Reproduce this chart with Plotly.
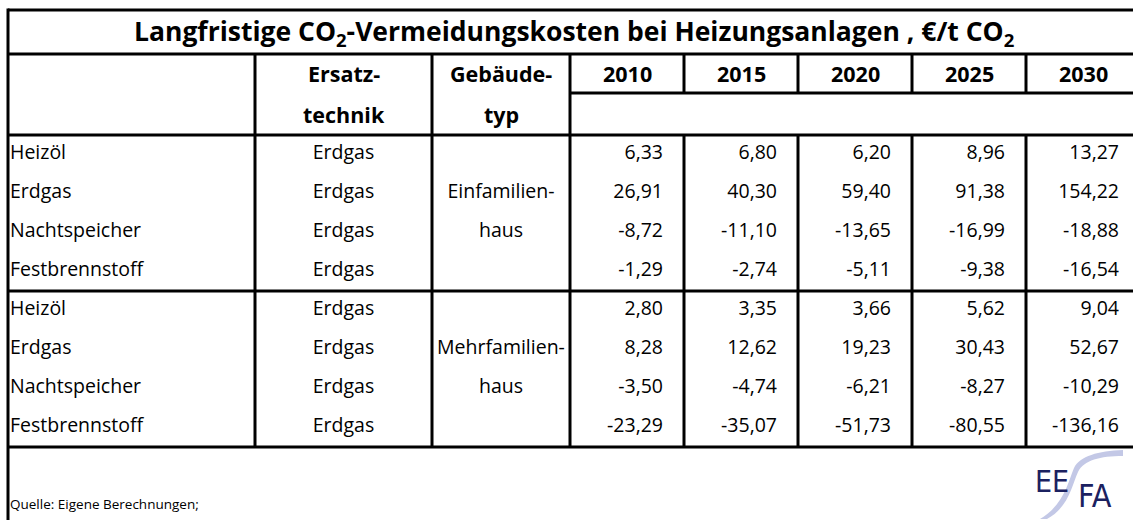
import plotly.graph_objects as go

# ---------------- data ----------------
title_text = "<b>Langfristige CO<sub>2</sub>-Vermeidungskosten bei Heizungsanlagen , €/t CO<sub>2</sub></b>"
years = ["2010", "2015", "2020", "2025", "2030"]
header_ersatz = ["Ersatz-", "technik"]
header_gebaeude = ["Gebäude-", "typ"]
row_labels = ["Heizöl", "Erdgas", "Nachtspeicher", "Festbrennstoff",
              "Heizöl", "Erdgas", "Nachtspeicher", "Festbrennstoff"]
ersatz = ["Erdgas"] * 8
gebaeude = ["", "Einfamilien-", "haus", "", "", "Mehrfamilien-", "haus", ""]
v2010 = [6.33, 26.91, -8.72, -1.29, 2.80, 8.28, -3.50, -23.29]
v2015 = [6.80, 40.30, -11.10, -2.74, 3.35, 12.62, -4.74, -35.07]
v2020 = [6.20, 59.40, -13.65, -5.11, 3.66, 19.23, -6.21, -51.73]
v2025 = [8.96, 91.38, -16.99, -9.38, 5.62, 30.43, -8.27, -80.55]
v2030 = [13.27, 154.22, -18.88, -16.54, 9.04, 52.67, -10.29, -136.16]
source_text = "Quelle: Eigene Berechnungen;"

# ---------------- layout geometry (pixels) ----------------
W, H = 1133, 520
col_edges = [8, 255, 432, 570, 684, 798, 912, 1026, 1140]
y_top, y_title, y_yearline, y_head, y_group, y_bottom = 10, 54, 93, 135, 291, 447
row_h = (y_group - y_head) / 4
row_centers = [y_head + row_h * (i + 0.5) for i in range(4)] + \
              [y_group + row_h * (i + 0.5) for i in range(4)]
FONT = "'Open Sans', Lato, sans-serif"
DATA_SIZE = 19.5
HEAD_SIZE = 21.5
LW = 3

fig = go.Figure()

def fmt(v):
    return f"{v:.2f}".replace(".", ",")

# numeric columns
for ci, vals in enumerate([v2010, v2015, v2020, v2025, v2030]):
    xr = col_edges[3 + ci + 1] - 21
    fig.add_trace(go.Scatter(
        x=[xr] * len(vals), y=row_centers, mode="text",
        text=[fmt(v) for v in vals], textposition="middle left",
        textfont=dict(family=FONT, size=DATA_SIZE, color="black"),
        hoverinfo="skip", showlegend=False, cliponaxis=False))

# row labels
fig.add_trace(go.Scatter(
    x=[10] * len(row_labels), y=row_centers, mode="text", text=row_labels,
    textposition="middle right", textfont=dict(family=FONT, size=DATA_SIZE, color="black"),
    hoverinfo="skip", showlegend=False, cliponaxis=False))
# Ersatztechnik
fig.add_trace(go.Scatter(
    x=[(col_edges[1] + col_edges[2]) / 2] * len(ersatz), y=row_centers, mode="text",
    text=ersatz, textposition="middle center",
    textfont=dict(family=FONT, size=DATA_SIZE, color="black"),
    hoverinfo="skip", showlegend=False, cliponaxis=False))
# Gebäudetyp (only non-empty cells)
g_idx = [i for i, t in enumerate(gebaeude) if t]
fig.add_trace(go.Scatter(
    x=[(col_edges[2] + col_edges[3]) / 2] * len(g_idx), y=[row_centers[i] for i in g_idx],
    mode="text", text=[gebaeude[i] for i in g_idx], textposition="middle center",
    textfont=dict(family=FONT, size=DATA_SIZE, color="black"),
    hoverinfo="skip", showlegend=False, cliponaxis=False))

ann = []
# title
ann.append(dict(x=(col_edges[0] + col_edges[-1]) / 2, y=(y_top + y_title) / 2, text=title_text,
                showarrow=False, xanchor="center", yanchor="middle",
                font=dict(family=FONT, size=26.5, color="black")))
# headers
hdr_y = [(y_title + y_yearline) / 2, (y_yearline + y_head) / 2]
for j in range(2):
    ann.append(dict(x=(col_edges[1] + col_edges[2]) / 2, y=hdr_y[j], text="<b>%s</b>" % header_ersatz[j],
                    showarrow=False, xanchor="center", yanchor="middle",
                    font=dict(family=FONT, size=HEAD_SIZE, color="black")))
    ann.append(dict(x=(col_edges[2] + col_edges[3]) / 2, y=hdr_y[j], text="<b>%s</b>" % header_gebaeude[j],
                    showarrow=False, xanchor="center", yanchor="middle",
                    font=dict(family=FONT, size=HEAD_SIZE, color="black")))
for ci, yr in enumerate(years):
    ann.append(dict(x=(col_edges[3 + ci] + col_edges[4 + ci]) / 2, y=hdr_y[0], text="<b>%s</b>" % yr,
                    showarrow=False, xanchor="center", yanchor="middle",
                    font=dict(family=FONT, size=HEAD_SIZE, color="black")))
# source
ann.append(dict(x=8, y=504, text=source_text, showarrow=False, xanchor="left", yanchor="middle",
                font=dict(family=FONT, size=13.5, color="black")))

# logo
NAVY = "#1b2160"
LOGO_FONT = "'DejaVu Sans Condensed', 'Liberation Sans', sans-serif"
ann.append(dict(x=1052, y=481, text="EE", showarrow=False, xanchor="center", yanchor="middle",
                font=dict(family=LOGO_FONT, size=30, color=NAVY)))
ann.append(dict(x=1095, y=496, text="FA", showarrow=False, xanchor="center", yanchor="middle",
                font=dict(family=LOGO_FONT, size=32, color=NAVY)))

shapes = []
# swoosh (behind letters)
shapes.append(dict(type="path", xref="x", yref="y", layer="below",
                   path="M 1123 450 C 1098 451, 1080 456, 1074 468 C 1068 482, 1064 505, 1040 519 "
                        "L 1047 519 C 1069 507, 1072 485, 1078 472 C 1084 460, 1100 456, 1123 456 Z",
                   fillcolor="#c3c8e6", line=dict(width=0)))

def hline(y, x0, x1):
    shapes.append(dict(type="line", xref="x", yref="y", x0=x0, x1=x1, y0=y, y1=y,
                       line=dict(color="black", width=LW)))

def vline(x, y0, y1):
    shapes.append(dict(type="line", xref="x", yref="y", x0=x, x1=x, y0=y0, y1=y1,
                       line=dict(color="black", width=LW)))

hline(y_top, col_edges[0], col_edges[-1])
hline(y_title, col_edges[0], col_edges[-1])
hline(y_yearline, col_edges[3], col_edges[-1])
hline(y_head, col_edges[0], col_edges[-1])
hline(y_group, col_edges[0], col_edges[-1])
hline(y_bottom, col_edges[0], col_edges[-1])
vline(col_edges[0], y_top - 1.5, H + 5)
for x in col_edges[1:4]:
    vline(x, y_title, y_bottom)
for x in col_edges[4:8]:
    vline(x, y_title, y_yearline)
    vline(x, y_head, y_bottom)

fig.update_layout(
    width=W, height=H, autosize=False,
    margin=dict(l=0, r=0, t=0, b=0),
    paper_bgcolor="white", plot_bgcolor="white",
    xaxis=dict(range=[0, W], visible=False, fixedrange=True),
    yaxis=dict(range=[H, 0], visible=False, fixedrange=True),
    annotations=ann, shapes=shapes, showlegend=False,
)

fig.write_html("out.html", config={"displayModeBar": False},
               post_script="document.body.style.margin='0';document.body.style.overflow='hidden';")
